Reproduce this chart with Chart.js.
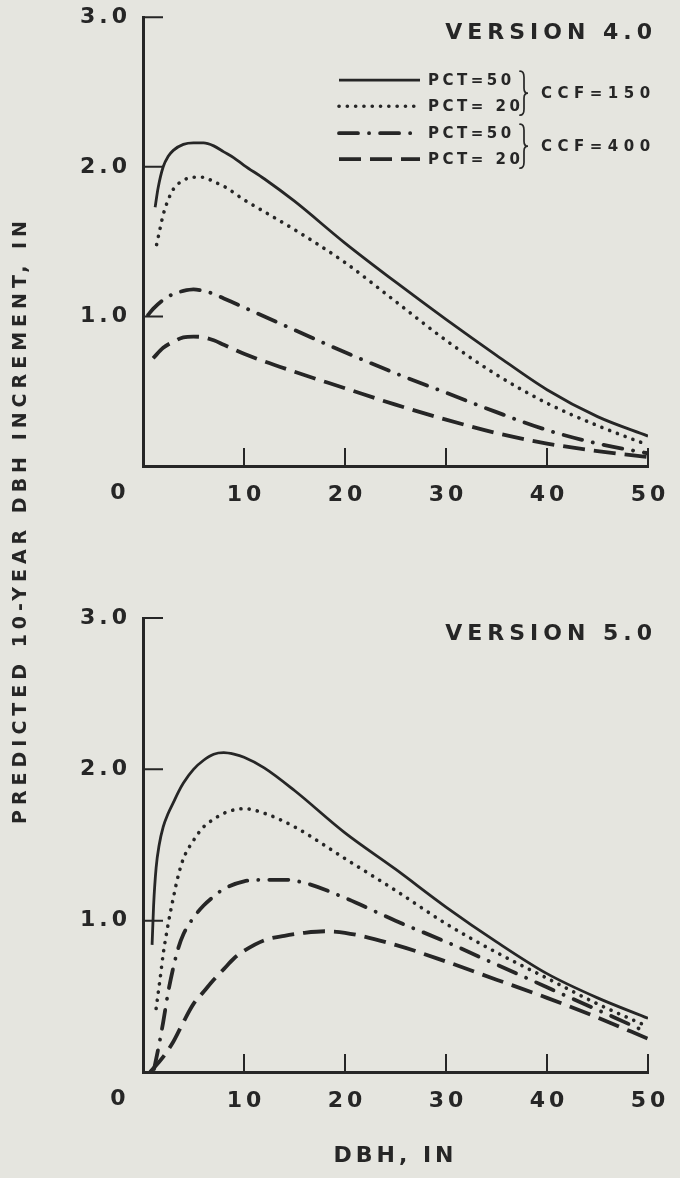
<!DOCTYPE html>
<html><head><meta charset="utf-8">
<script src="https://cdn.jsdelivr.net/npm/chart.js@4.4.1/dist/chart.umd.min.js"></script>
<style>
html,body{margin:0;padding:0;background:#e5e5df;}
body{width:680px;height:1178px;position:relative;overflow:hidden;}
canvas{position:absolute;left:0;}
#c1{top:0;}
#c2{top:540px;}
#ytitle{position:absolute;left:19px;top:520px;transform:translate(-50%,-50%) rotate(-90deg);white-space:nowrap;font:bold 19px "DejaVu Sans",sans-serif;letter-spacing:5px;color:#262626;}
</style></head><body>
<canvas id="c1" width="680" height="530"></canvas>
<canvas id="c2" width="680" height="638"></canvas>
<div id="ytitle">PREDICTED 10-YEAR DBH INCREMENT, IN</div>
<script>
// ---------- tick labels / text ----------
const xTickValues = [10, 20, 30, 40, 50];
const yTickValues = [1, 2, 3];
const panelTitles = ['VERSION 4.0', 'VERSION 5.0'];
const legendLabels = ['PCT=50', 'PCT= 20', 'PCT=50', 'PCT= 20'];
const ccfLabels = ['CCF=150', 'CCF=400'];
const xTitle = 'DBH, IN';

// ---------- Version 4.0 ----------
const v4SolidDbh = [1.2, 1.5, 2, 2.5, 3, 4, 5, 6, 7, 8, 9, 10, 12, 15, 20, 25, 30, 35, 40, 45, 50];
const v4SolidInc = [1.73, 1.86, 2.00, 2.07, 2.11, 2.15, 2.16, 2.16, 2.14, 2.10, 2.06, 2.01, 1.92, 1.77, 1.49, 1.23, 0.98, 0.74, 0.51, 0.33, 0.20];
const v4DotDbh = [1.35, 1.7, 2, 2.5, 3, 4, 5, 6, 7, 8, 10, 12, 15, 20, 25, 30, 35, 40, 45, 50];
const v4DotInc = [1.48, 1.59, 1.68, 1.78, 1.85, 1.91, 1.93, 1.93, 1.90, 1.87, 1.78, 1.70, 1.58, 1.36, 1.10, 0.84, 0.61, 0.42, 0.27, 0.14];
const v4DashDotDbh = [0.5, 1, 2, 3, 4, 5, 6, 7, 8, 10, 15, 20, 25, 30, 35, 40, 45, 50];
const v4DashDotInc = [1.01, 1.05, 1.11, 1.15, 1.17, 1.18, 1.17, 1.15, 1.12, 1.06, 0.91, 0.76, 0.62, 0.49, 0.36, 0.24, 0.15, 0.085];
const v4DashDbh = [1, 2, 3, 4, 5, 6, 7, 8, 10, 15, 20, 25, 30, 35, 40, 45, 50];
const v4DashInc = [0.72, 0.79, 0.83, 0.86, 0.865, 0.86, 0.84, 0.81, 0.75, 0.63, 0.52, 0.41, 0.31, 0.22, 0.15, 0.10, 0.06];

// ---------- Version 5.0 ----------
const v5SolidDbh = [0.9, 1.05, 1.3, 1.6, 2, 2.5, 3, 3.5, 4, 5, 6, 7, 8, 9, 10, 12, 15, 20, 25, 30, 35, 40, 45, 50];
const v5SolidInc = [0.84, 1.10, 1.35, 1.50, 1.62, 1.71, 1.78, 1.85, 1.91, 2.00, 2.06, 2.10, 2.11, 2.10, 2.08, 2.01, 1.86, 1.58, 1.34, 1.09, 0.86, 0.65, 0.49, 0.355];
const v5DotDbh = [1.3, 1.7, 2, 2.5, 3, 3.5, 4, 5, 6, 7, 8, 10, 12, 15, 20, 25, 30, 35, 40, 45, 50];
const v5DotInc = [0.42, 0.62, 0.78, 0.98, 1.15, 1.30, 1.41, 1.53, 1.62, 1.67, 1.71, 1.74, 1.71, 1.62, 1.41, 1.20, 0.98, 0.79, 0.62, 0.45, 0.30];
const v5DashDotDbh = [1.1, 1.5, 2, 2.5, 3, 3.5, 4, 5, 6, 7, 8, 10, 12, 14, 16, 20, 25, 30, 35, 40, 45, 50];
const v5DashDotInc = [0.02, 0.15, 0.33, 0.53, 0.69, 0.82, 0.91, 1.02, 1.10, 1.16, 1.21, 1.26, 1.27, 1.27, 1.25, 1.15, 1.00, 0.86, 0.71, 0.56, 0.41, 0.26];
const v5DashDbh = [0.7, 1.5, 2, 3, 4, 5, 6, 7, 8, 9, 10, 12, 14, 16, 18, 20, 25, 30, 35, 40, 45, 50];
const v5DashInc = [0.0, 0.06, 0.10, 0.20, 0.33, 0.45, 0.53, 0.61, 0.68, 0.75, 0.80, 0.87, 0.90, 0.92, 0.93, 0.92, 0.84, 0.73, 0.61, 0.49, 0.36, 0.22];

// ---------- styling ----------
const INK = '#262626';
const TXT = '#262626';
const FONT = '"DejaVu Sans", sans-serif';
const lineStyles = [
  {borderWidth: 2.8, borderDash: [], borderCapStyle: 'butt'},
  {borderWidth: 3.6, borderDash: [0.1, 8.2], borderCapStyle: 'round'},
  {borderWidth: 3.8, borderDash: [19, 11, 0.1, 11], borderCapStyle: 'round'},
  {borderWidth: 3.8, borderDash: [22, 9], borderCapStyle: 'butt'}
];

function pts(xs, ys) { return xs.map((x, i) => ({x: x, y: ys[i]})); }
function makeDatasets(series) {
  return series.map((s, i) => Object.assign({
    data: pts(s[0], s[1]),
    borderColor: INK,
    pointRadius: 0,
    fill: false,
    cubicInterpolationMode: 'monotone',
    borderJoinStyle: 'round'
  }, lineStyles[i]));
}

const decor = {
  id: 'decor',
  beforeDraw(chart) { chart.ctx.letterSpacing = '4px'; },
  afterDatasetsDraw(chart, args, opts) {
    const {ctx, chartArea: a, scales: {x, y}} = chart;
    ctx.save();
    ctx.strokeStyle = INK; ctx.lineWidth = 2; ctx.lineCap = 'butt';
    ctx.beginPath();
    xTickValues.forEach(v => { const px = x.getPixelForValue(v); ctx.moveTo(px, a.bottom); ctx.lineTo(px, a.bottom - 18); });
    yTickValues.forEach(v => { const py = y.getPixelForValue(v); ctx.moveTo(a.left, py); ctx.lineTo(a.left + 20, py); });
    ctx.stroke();
    ctx.fillStyle = TXT;
    ctx.font = 'bold 22px ' + FONT;
    ctx.letterSpacing = '4px';
    ctx.textAlign = 'center'; ctx.textBaseline = 'middle';
    ctx.fillText('0', x.getPixelForValue(0) - 25 + 2, a.bottom + opts.labelDy);
    ctx.textAlign = 'right'; ctx.letterSpacing = '5px';
    ctx.fillText(opts.title, a.right + 9, a.top + 16);
    ctx.restore();
    ctx.letterSpacing = '4px';
  }
};

const legendPlugin = {
  id: 'legendBox',
  afterDraw(chart) {
    const {ctx, chartArea: a} = chart;
    const x0 = a.left + 196, x1 = a.left + 277, tx = a.left + 285;
    const rows = [a.top + 63, a.top + 89, a.top + 116, a.top + 142];
    ctx.save();
    rows.forEach((ry, i) => {
      const st = lineStyles[i];
      ctx.strokeStyle = INK;
      ctx.lineWidth = st.borderWidth;
      ctx.lineCap = st.borderCapStyle;
      ctx.setLineDash(st.borderDash);
      ctx.beginPath(); ctx.moveTo(x0, ry); ctx.lineTo(x1, ry); ctx.stroke();
      ctx.setLineDash([]);
      ctx.fillStyle = TXT;
      ctx.font = 'bold 15px ' + FONT;
      ctx.letterSpacing = '3.5px';
      ctx.textAlign = 'left'; ctx.textBaseline = 'middle';
      ctx.fillText(legendLabels[i], tx, ry + 1);
    });
    const bx = a.left + 377;
    const brace = (yt, yb) => {
      const ym = (yt + yb) / 2;
      ctx.beginPath();
      ctx.moveTo(bx, yt);
      ctx.quadraticCurveTo(bx + 4, yt, bx + 4, yt + 6);
      ctx.lineTo(bx + 4, ym - 5);
      ctx.quadraticCurveTo(bx + 4, ym, bx + 8, ym);
      ctx.quadraticCurveTo(bx + 4, ym, bx + 4, ym + 5);
      ctx.lineTo(bx + 4, yb - 6);
      ctx.quadraticCurveTo(bx + 4, yb, bx, yb);
      ctx.stroke();
    };
    ctx.strokeStyle = INK; ctx.lineWidth = 1.7; ctx.lineCap = 'round';
    brace(rows[0] - 9, rows[1] + 9);
    brace(rows[2] - 9, rows[3] + 9);
    ctx.fillStyle = TXT;
    ctx.font = 'bold 15px ' + FONT;
    ctx.letterSpacing = '5.5px';
    ctx.textAlign = 'left'; ctx.textBaseline = 'middle';
    ctx.fillText(ccfLabels[0], a.left + 398, (rows[0] + rows[1]) / 2 + 1);
    ctx.fillText(ccfLabels[1], a.left + 398, (rows[2] + rows[3]) / 2 + 1);
    ctx.restore();
    ctx.letterSpacing = '4px';
  }
};

function makeOptions(idx) {
  const tickFont = {family: FONT, size: 22, weight: 'bold'};
  return {
    responsive: false, animation: false, devicePixelRatio: 1,
    events: [],
    layout: {padding: {left: 0, right: 32, top: idx === 0 ? 17 : 78, bottom: 0}},
    plugins: {
      legend: {display: false}, tooltip: {enabled: false},
      decor: {title: panelTitles[idx], labelDy: 27}
    },
    scales: {
      x: {
        type: 'linear', min: 0, max: 50,
        afterFit: s => { s.height = idx === 0 ? 64 : 106; },
        grid: {display: false},
        border: {display: true, color: INK, width: 3},
        ticks: {stepSize: 10, padding: 8, labelOffset: 2, color: TXT, font: tickFont, maxRotation: 0, autoSkip: false,
                callback: v => v === 0 ? '' : String(v)},
        title: idx === 1 ? {display: true, text: xTitle, color: TXT, font: tickFont, padding: {top: 0, bottom: 9}} : {display: false}
      },
      y: {
        type: 'linear', min: 0, max: 3,
        afterFit: s => { s.width = 143; },
        grid: {display: false},
        border: {display: true, color: INK, width: 3},
        ticks: {stepSize: 1, padding: 4, color: TXT, font: tickFont,
                callback: v => v === 0 ? '' : Number(v).toFixed(1)}
      }
    }
  };
}

new Chart(document.getElementById('c1'), {
  type: 'line',
  data: {datasets: makeDatasets([[v4SolidDbh, v4SolidInc], [v4DotDbh, v4DotInc], [v4DashDotDbh, v4DashDotInc], [v4DashDbh, v4DashInc]])},
  options: makeOptions(0),
  plugins: [decor, legendPlugin]
});
new Chart(document.getElementById('c2'), {
  type: 'line',
  data: {datasets: makeDatasets([[v5SolidDbh, v5SolidInc], [v5DotDbh, v5DotInc], [v5DashDotDbh, v5DashDotInc], [v5DashDbh, v5DashInc]])},
  options: makeOptions(1),
  plugins: [decor]
});
</script>
</body></html>
